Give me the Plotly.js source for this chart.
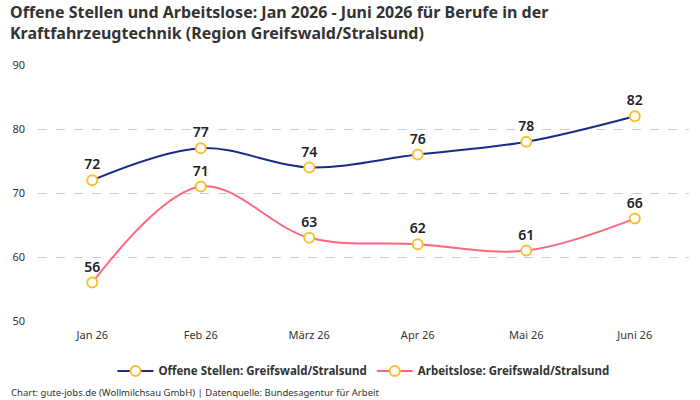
<!DOCTYPE html>
<html>
<head>
<meta charset="utf-8">
<script src="https://cdn.plot.ly/plotly-3.0.1.min.js"></script>
<style>
  html, body { margin: 0; padding: 0; background: #fff; }
  #chart { width: 700px; height: 400px; }
</style>
</head>
<body>
<div id="chart"></div>
<script>
// Monthly figures, Kraftfahrzeugtechnik, Region Greifswald/Stralsund
const months = ["Jan 26", "Feb 26", "März 26", "Apr 26", "Mai 26", "Juni 26"];
const offeneStellen = [72, 77, 74, 76, 78, 82];
const arbeitslose = [56, 71, 63, 62, 61, 66];
const yTicks = [50, 60, 70, 80, 90];

const FONT = "'Noto Sans', Roboto, 'DejaVu Sans', sans-serif";
const markerStyle = { symbol: "circle", size: 10, color: "#ffffff", line: { color: "#fbc02d", width: 2 } };

function series(name, values, color) {
  return {
    type: "scatter",
    mode: "lines+markers+text",
    name: name,
    x: months,
    y: values,
    text: values.map(String),
    textposition: "top center",
    textfont: { family: FONT, size: 14, color: "#222", weight: 600 },
    line: { color: color, width: 2, shape: "spline", smoothing: 1 },
    marker: markerStyle,
    cliponaxis: false
  };
}

const data = [
  series("Offene Stellen: Greifswald/Stralsund", offeneStellen, "#1a2a8c"),
  series("Arbeitslose: Greifswald/Stralsund", arbeitslose, "#ff6680")
];

const layout = {
  width: 700,
  height: 400,
  margin: { l: 38, r: 11, t: 65, b: 79 },
  paper_bgcolor: "#fff",
  plot_bgcolor: "#fff",
  font: { family: FONT, color: "#333" },
  xaxis: {
    type: "category",
    range: [-0.5, 5.5],
    showgrid: false,
    zeroline: false,
    showline: false,
    ticks: "",
    ticklabelstandoff: 6,
    tickfont: { family: FONT, size: 11, color: "#333" }
  },
  yaxis: {
    range: [50, 90],
    tickvals: yTicks,
    showgrid: true,
    gridcolor: "#cccccc",
    griddash: "dash",
    gridwidth: 1,
    zeroline: false,
    showline: false,
    ticks: "",
    ticklabelstandoff: 12,
    tickfont: { family: FONT, size: 11, color: "#333" }
  },
  showlegend: true,
  legend: {
    orientation: "h",
    x: 0.5, xanchor: "center",
    y: -0.195, yanchor: "middle",
    font: { family: FONT, size: 11.5, color: "#333", weight: 700 },
    itemwidth: 36,
    traceorder: "normal"
  },
  annotations: [
    {
      // two-line chart title, left aligned
      text: "Offene Stellen und Arbeitslose: Jan 2026 - Juni 2026 für Berufe in der<br>Kraftfahrzeugtechnik (Region Greifswald/Stralsund)",
      xref: "paper", yref: "paper",
      x: -0.046, xanchor: "left",
      y: 1.166, yanchor: "middle",
      align: "left",
      showarrow: false,
      font: { family: FONT, size: 16, color: "#333", weight: 700 }
    },
    {
      text: "Chart: gute-jobs.de (Wollmilchsau GmbH) | Datenquelle: Bundesagentur für Arbeit",
      xref: "paper", yref: "paper",
      x: -0.045, xanchor: "left",
      y: -0.281, yanchor: "middle",
      showarrow: false,
      font: { family: FONT, size: 9.5, color: "#333" }
    }
  ]
};

Plotly.newPlot("chart", data, layout, { displayModeBar: false, staticPlot: true });
</script>
</body>
</html>
